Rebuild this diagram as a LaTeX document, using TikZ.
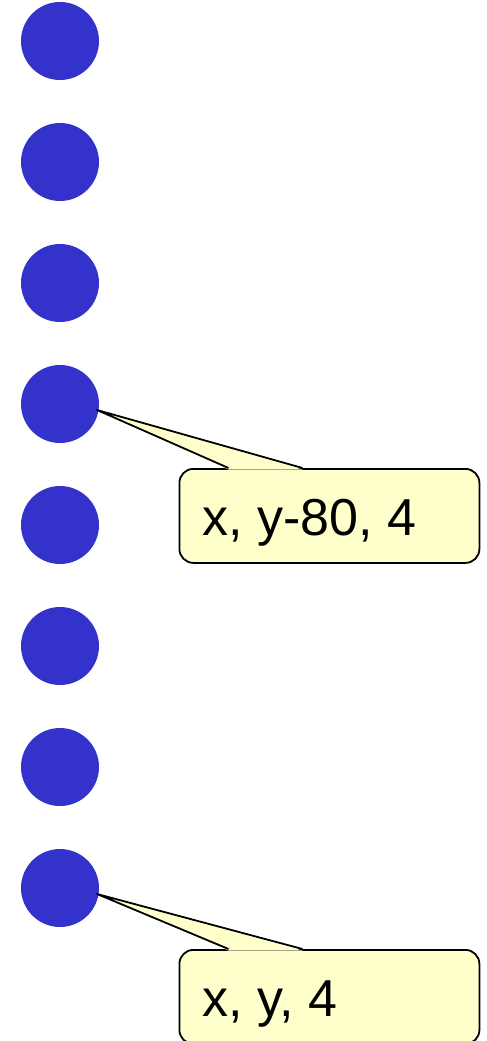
\documentclass[tikz,border=0pt]{standalone}
\usepackage{fontspec}
\setmainfont{Liberation Sans}
\usetikzlibrary{calc}
\definecolor{dotblue}{HTML}{3333CC}
\definecolor{noteyellow}{HTML}{FFFFCC}
\begin{document}
\begin{tikzpicture}[x=1pt, y=-1pt,
	dot/.style={circle, fill=dotblue, minimum size=78pt, inner sep=0pt},
	notebox/.style={draw=black, line width=1.8pt, fill=noteyellow, rounded corners=14pt, minimum width=300pt, minimum height=94pt, anchor=north west, inner sep=0pt},
	notetext/.style={anchor=base west, font=\fontsize{52}{62}\selectfont, inner sep=0pt},
	pointer/.style={draw=black, line width=1.8pt, line join=round}]
	\clip (0,0) rectangle (487,1041);
	% column of dots
	\foreach \i in {1,...,8}
		\node[dot] (dot\i) at (60, 41+121*\i-121) {};
	% callouts
	\foreach \d/\top/\txt in {4/468/{x, y-80, 4}, 8/949/{x, y, 4}} {
		\node[notebox] (note\d) at (178.5,\top) {};
		\node[notetext] (label\d) at ($(note\d.north west)+(24,67)$) {\txt};
		\coordinate (tip\d) at ($(dot\d.center)+(37,6)$);
		\coordinate (basea\d) at ($(note\d.north west)+(50,0)$);
		\coordinate (baseb\d) at ($(note\d.north west)+(124,0)$);
		\fill[noteyellow] (tip\d) -- ($(basea\d)+(0,1.5)$) -- ($(baseb\d)+(0,1.5)$) -- cycle;
		\draw[pointer] (basea\d) -- (tip\d) -- (baseb\d);
	}
\end{tikzpicture}
\end{document}
